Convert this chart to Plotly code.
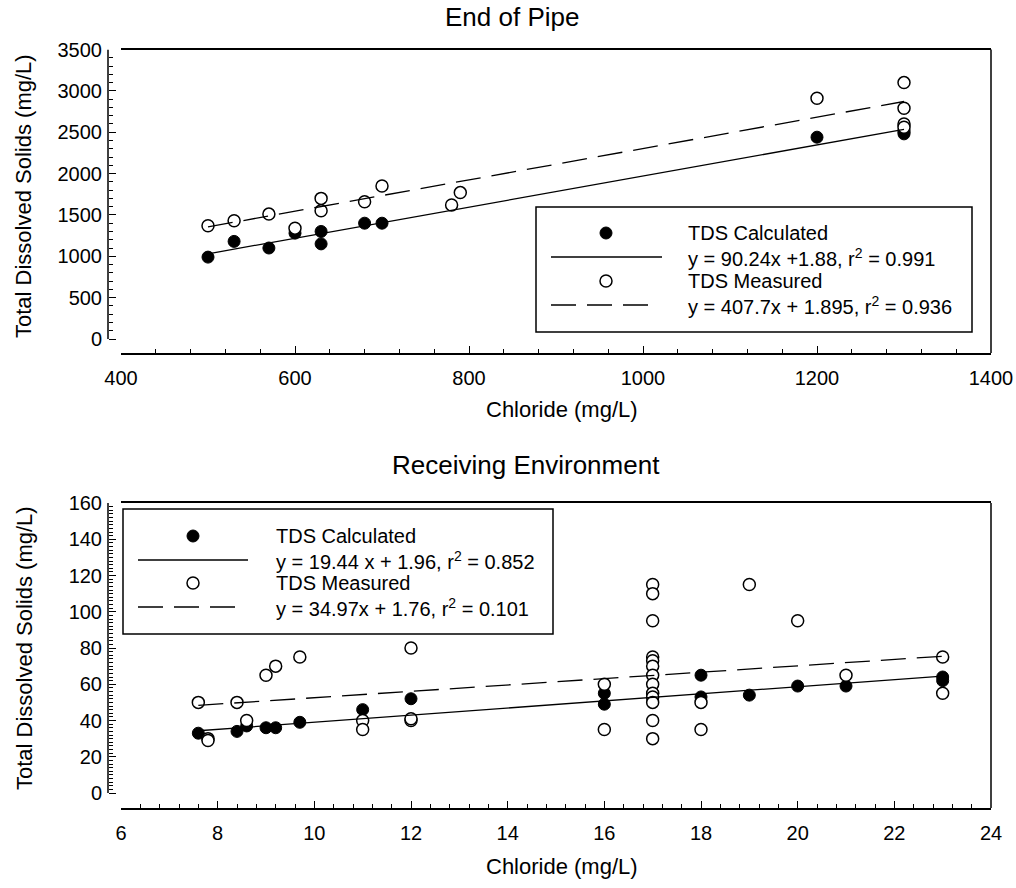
import plotly.graph_objects as go
import numpy as np

W, H = 1016, 888
FONT = "Liberation Sans, Arial, sans-serif"

# ---------------- data: End of Pipe ----------------
top_cl_calc = [500, 530, 570, 600, 630, 630, 680, 700, 1200, 1300, 1300, 1300]
top_tds_calc = [990, 1180, 1100, 1280, 1300, 1150, 1400, 1400, 2440, 2480, 2500, 2520]
top_cl_meas = [500, 530, 570, 600, 630, 630, 680, 700, 780, 790, 1200, 1300, 1300, 1300, 1300]
top_tds_meas = [1370, 1430, 1510, 1340, 1700, 1550, 1660, 1850, 1620, 1770, 2910, 3100, 2790, 2600, 2560]
top_fit_slope = [1.88, 1.895]
top_fit_intercept = [90.24, 407.7]
top_legend_labels = ["TDS Calculated", "y = 90.24x +1.88, r<sup>2</sup> = 0.991",
                     "TDS Measured", "y = 407.7x + 1.895, r<sup>2</sup> = 0.936"]
top_xticks = [400, 600, 800, 1000, 1200, 1400]
top_yticks = [0, 500, 1000, 1500, 2000, 2500, 3000, 3500]

# ---------------- data: Receiving Environment ----------------
bot_cl_calc = [7.6, 8.4, 8.6, 9.0, 9.2, 9.7, 11, 12, 16, 16, 17, 17, 18, 18, 19, 20, 21, 23, 23]
bot_tds_calc = [33, 34, 37, 36, 36, 39, 46, 52, 55, 49, 53, 55, 65, 53, 54, 59, 59, 64, 62]
bot_cl_meas = [7.6, 7.8, 7.8, 8.4, 8.6, 9.0, 9.2, 9.7, 11, 11, 12, 12, 12,
               16, 16, 17, 17, 17, 17, 17, 17, 17, 17, 17, 17, 17, 17, 17,
               18, 18, 19, 20, 21, 23, 23]
bot_tds_meas = [50, 30, 29, 50, 40, 65, 70, 75, 40, 35, 80, 40, 41,
                60, 35, 115, 110, 95, 75, 73, 70, 65, 60, 55, 53, 50, 40, 30,
                50, 35, 115, 95, 65, 75, 55]
bot_fit_slope = [1.96, 1.76]
bot_fit_intercept = [19.44, 34.97]
bot_legend_labels = ["TDS Calculated", "y = 19.44 x + 1.96, r<sup>2</sup> = 0.852",
                     "TDS Measured", "y = 34.97x + 1.76, r<sup>2</sup> = 0.101"]
bot_xticks = [6, 8, 10, 12, 14, 16, 18, 20, 22, 24]
bot_yticks = [0, 20, 40, 60, 80, 100, 120, 140, 160]


def px(x):
    return x / W


def py(y):
    return 1 - y / H


fig = go.Figure()

filled = dict(symbol="circle", size=12, color="black", line=dict(color="black", width=1))
opened = dict(symbol="circle", size=12, color="white", line=dict(color="black", width=1.5))


def add_panel(cx, cy, mx, my, slopes, intercepts, xa, ya):
    fig.add_trace(go.Scatter(x=cx, y=cy, mode="markers", marker=filled,
                             xaxis=xa, yaxis=ya, showlegend=False, hoverinfo="skip"))
    fig.add_trace(go.Scatter(x=mx, y=my, mode="markers", marker=opened,
                             xaxis=xa, yaxis=ya, showlegend=False, hoverinfo="skip"))
    for xs, s, b, dash in [(cx, slopes[0], intercepts[0], "solid"),
                           (mx, slopes[1], intercepts[1], "25px,11px")]:
        x0, x1 = min(xs), max(xs)
        fig.add_trace(go.Scatter(x=[x0, x1], y=[s * x0 + b, s * x1 + b], mode="lines",
                                 line=dict(color="black", width=1.3, dash=dash),
                                 xaxis=xa, yaxis=ya, showlegend=False, hoverinfo="skip"))


add_panel(top_cl_calc, top_tds_calc, top_cl_meas, top_tds_meas,
          top_fit_slope, top_fit_intercept, "x", "y")
add_panel(bot_cl_calc, bot_tds_calc, bot_cl_meas, bot_tds_meas,
          bot_fit_slope, bot_fit_intercept, "x2", "y2")

tickfont = dict(family=FONT, size=20, color="black")

common_x = dict(showline=True, linewidth=1.5, linecolor="black", mirror=True,
                ticks="inside", ticklen=7, tickwidth=1.2, tickcolor="black",
                showgrid=False, zeroline=False, tickfont=tickfont, ticklabelstandoff=6,
                automargin=False)
common_y = dict(showline=False, ticks="inside", ticklen=7, tickwidth=1.2, tickcolor="black",
                showgrid=False, zeroline=False, tickfont=tickfont, anchor="free",
                position=px(108), ticklabelstandoff=6, automargin=False)

# panel geometry (pixels)
T_TOP, T_BOT, T_Y0 = 49.5, 353, 339
B_TOP, B_BOT, B_Y0 = 503, 808, 793
t_scale = (T_Y0 - T_TOP) / 3500
b_scale = (B_Y0 - B_TOP) / 160

fig.update_layout(
    template="none",
    width=W, height=H, autosize=False,
    margin=dict(l=0, r=0, t=0, b=0, pad=0, autoexpand=False),
    paper_bgcolor="white", plot_bgcolor="white",
    font=dict(family=FONT, color="black"),
    xaxis=dict(domain=[px(121), px(991)], range=[400, 1400], anchor="y",
               tickmode="array", tickvals=top_xticks,
               minor=dict(ticks="inside", ticklen=4, tickwidth=1, tickcolor="black",
                          tickmode="array", tickvals=list(np.arange(400, 1401, 40))),
               **common_x),
    yaxis=dict(domain=[py(T_BOT), py(T_TOP)],
               range=[-(T_BOT - T_Y0) / t_scale, 3500],
               tickmode="array", tickvals=top_yticks,
               minor=dict(ticks="inside", ticklen=4, tickwidth=1, tickcolor="black",
                          tickmode="array", tickvals=list(range(0, 3501, 100))),
               **common_y),
    xaxis2=dict(domain=[px(121), px(991)], range=[6, 24], anchor="y2",
                tickmode="array", tickvals=bot_xticks,
                minor=dict(ticks="inside", ticklen=4, tickwidth=1, tickcolor="black",
                           tickmode="array", tickvals=[round(v, 2) for v in np.arange(6, 24.01, 0.4)]),
                **common_x),
    yaxis2=dict(domain=[py(B_BOT), py(B_TOP)],
                range=[-(B_BOT - B_Y0) / b_scale, 160],
                tickmode="array", tickvals=bot_yticks,
                minor=dict(ticks="inside", ticklen=4, tickwidth=1, tickcolor="black",
                           tickmode="array", tickvals=list(range(0, 161, 2))),
                **common_y),
)

shapes = []
# offset y-axis lines and right frame lines
shapes.append(dict(type="line", xref="paper", yref="y", x0=px(108), x1=px(108), y0=0, y1=3500,
                   line=dict(color="black", width=1.5)))
shapes.append(dict(type="line", xref="paper", yref="y2", x0=px(108), x1=px(108), y0=0, y1=160,
                   line=dict(color="black", width=1.5)))
shapes.append(dict(type="line", xref="paper", yref="paper", x0=px(991), x1=px(991),
                   y0=py(T_BOT), y1=py(T_TOP), line=dict(color="black", width=1.5)))
shapes.append(dict(type="line", xref="paper", yref="paper", x0=px(991), x1=px(991),
                   y0=py(B_BOT), y1=py(B_TOP), line=dict(color="black", width=1.5)))

annotations = []


def add_legend(box, mark_x, line_x, text_x, rows, labels):
    x0, x1, y0, y1 = box
    shapes.append(dict(type="rect", xref="paper", yref="paper", x0=px(x0), x1=px(x1),
                       y0=py(y1), y1=py(y0), line=dict(color="black", width=1.5),
                       fillcolor="white", layer="above"))
    for r, fill, lw in [(rows[0], "black", 1), (rows[2], "white", 1.5)]:
        shapes.append(dict(type="circle", xref="paper", yref="paper",
                           xsizemode="pixel", ysizemode="pixel",
                           xanchor=px(mark_x), yanchor=py(r),
                           x0=-6, x1=6, y0=-6, y1=6, fillcolor=fill,
                           line=dict(color="black", width=lw), layer="above"))
    shapes.append(dict(type="line", xref="paper", yref="paper", x0=px(line_x[0]), x1=px(line_x[1]),
                       y0=py(rows[1]), y1=py(rows[1]), line=dict(color="black", width=1.3),
                       layer="above"))
    shapes.append(dict(type="line", xref="paper", yref="paper", x0=px(line_x[0]), x1=px(line_x[1] - 8),
                       y0=py(rows[3]), y1=py(rows[3]),
                       line=dict(color="black", width=1.3, dash="25px,11px"), layer="above"))
    for r, lab in zip(rows, labels):
        annotations.append(dict(text=lab, xref="paper", yref="paper", x=px(text_x), y=py(r),
                                xanchor="left", yanchor="middle", showarrow=False,
                                font=dict(family=FONT, size=20, color="black")))


add_legend((536, 972, 207, 332), 606, (551, 662), 686, [233, 257, 281, 305], top_legend_labels)
add_legend((123, 553, 509, 634), 193, (138, 248), 274, [536, 560, 583, 607], bot_legend_labels)

# titles
for txt, x, y, size, ang in [
    ("End of Pipe", 512, 17, 26, 0),
    ("Receiving Environment", 526, 465, 26, 0),
    ("Chloride (mg/L)", 562, 409, 22, 0),
    ("Chloride (mg/L)", 562, 866, 22, 0),
    ("Total Dissolved Solids (mg/L)", 24, 196, 22, -90),
    ("Total Dissolved Solids (mg/L)", 24, 648, 22, -90),
]:
    annotations.append(dict(text=txt, xref="paper", yref="paper", x=px(x), y=py(y),
                            xanchor="center", yanchor="middle", showarrow=False, textangle=ang,
                            font=dict(family=FONT, size=size, color="black")))

fig.update_layout(shapes=shapes, annotations=annotations)
fig.write_html("out.html")
